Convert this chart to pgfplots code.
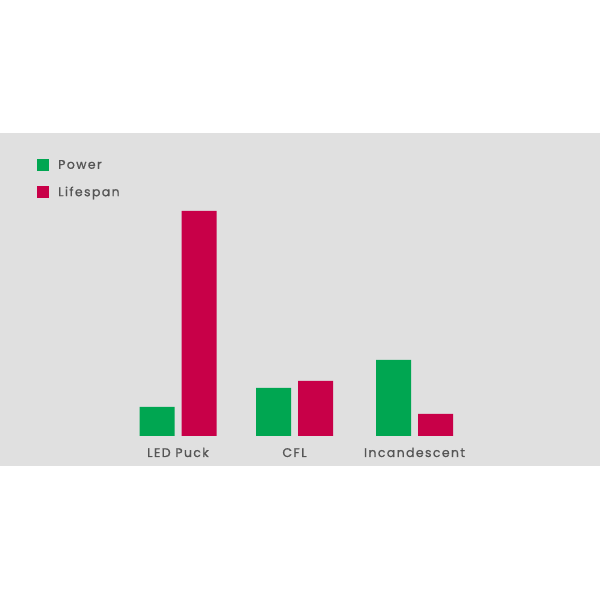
\documentclass[border=0pt]{standalone}
\usepackage{pgfplots}
\pgfplotsset{compat=1.18}
\usepackage{fontspec}
\setmainfont{Poppins}[LetterSpace=12]
\newfontfamily\lbl{Poppins}[LetterSpace=11, FakeBold=0.8]
\definecolor{pgreen}{RGB}{0,166,81}
\definecolor{pred}{RGB}{200,0,72}
\definecolor{panel}{RGB}{224,224,224}
\definecolor{txt}{RGB}{85,85,85}
\begin{document}
\begin{tikzpicture}
\path[use as bounding box, fill=white] (0,0) rectangle (600pt,600pt);
\begin{axis}[
  at={(0pt,134pt)}, anchor=south west,
  scale only axis, width=600pt, height=333pt,
  xmin=0, xmax=600, ymin=-30, ymax=303,
  axis background/.style={fill=panel},
  axis line style={draw=none},
  xtick=\empty, ytick=\empty,
  ybar, bar width=35pt,
  clip=false,
  legend style={at={(axis description cs:0.0617,0.922)}, anchor=north west,
    draw=none, fill=none, inner sep=0pt, row sep=15pt, column sep=9pt,
    nodes={inner sep=0pt, text=txt, font=\lbl\fontsize{12.5}{14}\selectfont},
    cells={anchor=west}},
]
\addplot[fill=pgreen, draw=none, bar shift=-21pt,
  legend image code/.code={\fill[pgreen] (0pt,-6pt) rectangle (12pt,6pt);}]
  coordinates {(178,29) (294.5,48) (414.5,76)};
\addplot[fill=pred, draw=none, bar shift=21pt,
  legend image code/.code={\fill[pred] (0pt,-6pt) rectangle (12pt,6pt);}]
  coordinates {(178,225) (294.5,55) (414.5,22)};
\legend{Power, Lifespan}
\node[anchor=base, text=txt, font=\lbl\fontsize{12.5}{14}\selectfont] at (axis cs:178,-21) {LED Puck};
\node[anchor=base, text=txt, font=\lbl\fontsize{12.5}{14}\selectfont] at (axis cs:294.5,-21) {CFL};
\node[anchor=base, text=txt, font=\lbl\fontsize{12.5}{14}\selectfont] at (axis cs:414.5,-21) {Incandescent};
\end{axis}
\end{tikzpicture}
\end{document}
